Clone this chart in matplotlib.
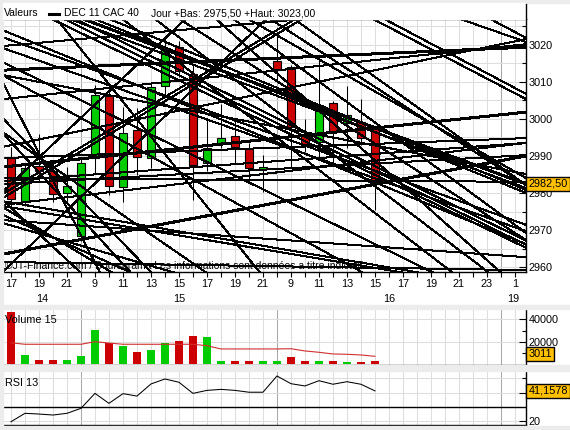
import matplotlib
matplotlib.use('Agg')

import matplotlib.pyplot as plt
import matplotlib.transforms as mtransforms
from matplotlib.lines import Line2D
from matplotlib.patches import Rectangle
import numpy as np

plt.rcParams['font.family'] = ['Liberation Sans', 'DejaVu Sans']

# ================================
# Data (hourly candles, DEC 11 CAC 40)
# ================================
hour_labels = ['17', '19', '21', '9', '11', '13', '15', '17', '19', '21',
               '9', '11', '13', '15', '17', '19', '21', '23', '1']
day_names = ['14', '15', '16', '19']
day_breaks = [5, 19, 35]

opens = [2989.5, 2977.8, 2987.3, 2985.9, 2979.9, 2968.4, 2989.3, 3006.1, 2981.7,
         2997.1, 2989.3, 3008.8, 3019.4, 3012.2, 2988.2, 2993.6, 2995.3, 2991.8,
         2986.4, 3015.6, 3014.0, 2995.8, 2993.8, 3004.2, 2998.9, 2999.2, 2997.4]
highs = [2992.5, 2988.0, 2996.0, 2989.0, 2987.0, 2989.5, 3009.0, 3009.0, 3003.2,
         3002.9, 3010.0, 3021.7, 3021.0, 3014.5, 3000.0, 3004.0, 2999.6, 2993.5,
         2990.2, 3023.0, 3014.5, 3000.0, 3015.8, 3004.8, 3008.8, 3005.3, 2998.0]
lows = [2976.0, 2976.5, 2983.0, 2977.6, 2977.0, 2967.0, 2985.0, 2979.5, 2977.6,
        2984.8, 2986.7, 3006.4, 3011.3, 2978.1, 2986.0, 2992.0, 2988.0, 2983.0,
        2980.3, 3010.4, 2986.6, 2991.0, 2989.4, 2987.5, 2992.0, 2993.0, 2975.5]
closes = [2978.3, 2986.8, 2985.9, 2979.6, 2981.8, 2988.2, 3006.4, 2981.9, 2996.1,
          2989.8, 3008.6, 3019.1, 3012.9, 2987.5, 2992.2, 2994.7, 2992.3, 2986.7,
          2987.1, 3013.1, 2997.7, 2993.2, 3003.7, 2996.5, 3001.0, 2994.9, 2982.5]

volumes = [46400, 8000, 3600, 3600, 3600, 7200, 30500, 18500, 16000, 10800,
           12500, 18800, 20600, 25000, 24000, 2700, 2700, 2700, 2700, 2700,
           6200, 2500, 2500, 2500, 1800, 2000, 3011]
vol_ma15 = [19000, 17700, 17700, 17700, 17700, 17700, 20000, 18800, 17700, 17700,
            17700, 17700, 17700, 17700, 16400, 13500, 13500, 13500, 13500, 13500,
            13700, 11700, 10500, 9000, 8700, 8100, 6900]
rsi13 = [19.5, 25.4, 24.9, 24.2, 25.4, 28.9, 39.4, 32.4, 39.2, 37.5, 46.0, 49.5,
         47.2, 39.4, 41.5, 42.2, 41.5, 40.2, 40.2, 51.6, 46.2, 44.6, 48.3, 45.8,
         47.6, 45.8, 41.1578]

# hand drawn trend lines: price where each one crosses the left / right edge
trend_span = (-0.6, 36.8)
trend_left = [2987.0, 2963.5, 2976.8, 2958.7, 2980.3, 2992.4, 3005.3, 3013.1,
              3019.6, 2983.2, 2982.4, 2979.7, 2978.6,
              3035.0, 3033.6, 3036.9, 3035.0, 3033.3, 3036.6, 3023.9, 3022.0,
              3015.3, 3011.8, 3000.2, 2996.2, 3045.1, 3038.7, 3051.7, 3058.1,
              3057.3, 3078.1, 3072.4, 3064.9, 3073.8, 3083.2, 3081.3, 3079.2,
              3070.0, 3096.4, 2978.1, 2976.2, 2974.1, 2971.9, 2972.7, 2961.4,
              2977.8, 2976.5, 2996.4, 3019.1, 3011.8, 2984.0, 2989.4, 3009.9]
trend_right = [3001.8, 2990.0, 2993.5, 3094.0, 3113.7, 3021.5, 3020.1, 3019.3,
               3032.3, 2993.5, 2990.2, 3064.1, 3063.0,
               2982.4, 2981.3, 2980.0, 2966.0, 2965.2, 2967.1, 2966.2, 2971.4,
               2946.3, 2934.4, 2853.6, 2842.5, 2869.0, 2980.8, 2943.3, 2950.9,
               2967.3, 2952.5, 2969.2, 2984.0, 2982.1, 2982.1, 3006.7, 3005.3,
               3020.7, 3021.8, 2847.1, 2891.9, 2910.7, 2931.2, 2962.7, 2959.2,
               2953.6, 2953.0, 2899.1, 2969.7, 2985.1, 2983.0, 2994.8, 2733.7]
trend_bold = [1, 1, 0, 0, 0, 0, 0, 1, 0, 0, 0, 0, 0,
              1, 0, 0, 0, 0, 0, 0, 0, 0, 0, 0, 0, 0, 0, 0, 0,
              0, 0, 0, 0, 0, 0, 0, 0, 0, 0, 0, 0, 0, 0, 0, 0,
              0, 0, 0, 0, 0, 0, 0, 0]

day_low = '2975,50'
day_high = '3023,00'
last_price = 2982.50
last_volume = 3011
last_rsi = 41.1578

# ================================
# Figure / panels (pixel layout)
# ================================
W, H = 570, 430
fig = plt.figure(figsize=(W / 100, H / 100), dpi=100, facecolor='white')

GREY = '#ececec'
GRID = '#dedede'
SEP = '#a8a8a8'
RED = '#cc0000'
GREEN = '#00cc00'
GOLD = '#ffc000'
FS = 7.8


def fx(px):
    return px / W


def fy(py):
    return 1 - py / H


def add_panel(x0, y0, x1, y1):
    return fig.add_axes([fx(x0), fy(y1), (x1 - x0) / W, (y1 - y0) / H])


for (x0, y0, x1, y1) in [(0, 0, W, 3), (0, 0, 3, H), (0, 305, W, 309),
                         (0, 365, W, 371), (0, 426, W, H)]:
    fig.patches.append(Rectangle((fx(x0), fy(y1)), (x1 - x0) / W, (y1 - y0) / H,
                                 transform=fig.transFigure, color=GREY, zorder=0))

idx = np.arange(len(closes))
xlim = (-0.57, 36.79)
n_slots = 37


def base_grid(ax):
    for i in range(n_slots):
        ax.axvline(i, color=SEP if i in day_breaks else GRID, lw=0.75, zorder=0)
    ax.set_xlim(*xlim)
    ax.set_facecolor('white')
    for s in ['left', 'top']:
        ax.spines[s].set_visible(False)
    ax.spines['right'].set_linewidth(1.0)
    ax.spines['bottom'].set_linewidth(1.0)
    ax.yaxis.tick_right()
    ax.tick_params(axis='y', which='both', direction='in', pad=2, labelsize=FS,
                   width=0.8)
    ax.tick_params(axis='y', which='major', length=5)
    ax.tick_params(axis='y', which='minor', length=3)


def value_box(ax, y, text, trans=None):
    t = trans if trans is not None else mtransforms.blended_transform_factory(ax.transAxes, ax.transData)
    ax.text(1.005, y, text, transform=t, ha='left', va='center', fontsize=FS,
            zorder=10, clip_on=False,
            bbox=dict(boxstyle='square,pad=0.2', fc=GOLD, ec='black', lw=1.0))


# ================================
# Main price panel
# ================================
ax = add_panel(3, 19, 526, 272)
base_grid(ax)
ax.spines['top'].set_visible(True)
ax.spines['top'].set_linewidth(1.0)
ax.set_ylim(2958.7, 3026.9)
for p in range(2960, 3030, 5):
    ax.axhline(p, color=GRID, lw=0.75, zorder=0)
ax.set_yticks(range(2960, 3030, 10))
ax.set_yticks(range(2965, 3030, 10), minor=True)

ax.set_xticks(range(n_slots))
ax.tick_params(axis='x', direction='out', length=3.5, width=0.8, labelbottom=False)

# candles
ax.vlines(idx, lows, highs, color='black', lw=0.75, zorder=2)
body_low = np.minimum(opens, closes)
body_h = np.abs(np.array(closes) - np.array(opens))
candle_cols = [GREEN if c >= o else RED for o, c in zip(opens, closes)]
ax.bar(idx, body_h, bottom=body_low, width=0.6, color=candle_cols,
       edgecolor='black', linewidth=0.8, zorder=3)

# trend lines
for pl, pr, b in zip(trend_left, trend_right, trend_bold):
    ax.plot(trend_span, [pl, pr], color='black', lw=1.44 if b else 0.72,
            antialiased=False, zorder=4)

ax.text(0.004, 0.022, '\u00a9JT-Finance.com / Boursorama Les informations sont '
        'données a titre indicatif', transform=ax.transAxes, fontsize=7.5,
        va='center', ha='left', zorder=5)

# x labels (hours, then days)
tx = mtransforms.blended_transform_factory(ax.transData, fig.transFigure)
for k, lab in enumerate(hour_labels):
    ax.text(2 * k, fy(284), lab, transform=tx, ha='center', va='center',
            fontsize=FS, clip_on=False)
edges = [xlim[0]] + day_breaks + [xlim[1]]
for k, lab in enumerate(day_names):
    ax.text((edges[k] + edges[k + 1]) / 2, fy(299), lab, transform=tx,
            ha='center', va='center', fontsize=FS, clip_on=False)

value_box(ax, last_price, '2982,50')

# header
fig.patches.append(Rectangle((fx(3), fy(19)), 523 / W, 16 / H,
                             transform=fig.transFigure, color='white', zorder=0))
fig.text(fx(4), fy(13.3), 'Valeurs', fontsize=7.5, va='center', ha='left')
fig.add_artist(Line2D([fx(49), fx(59)], [fy(13.5), fy(13.5)], color='black',
                      lw=2.2, transform=fig.transFigure))
fig.text(fx(64), fy(13.3), 'DEC 11 CAC 40', fontsize=7.5, va='center', ha='left')
fig.text(fx(151), fy(13.3), 'Jour +Bas: %s +Haut: %s' % (day_low, day_high),
         fontsize=7.5, va='center', ha='left')
fig.add_artist(Line2D([fx(526), fx(526)], [fy(4), fy(19)], color='black',
                      lw=1.0, transform=fig.transFigure))

# ================================
# Volume panel
# ================================
axv = add_panel(3, 309, 526, 365)
base_grid(axv)
axv.set_ylim(-897, 49330)
for v in [20000, 40000]:
    axv.axhline(v, color=GRID, lw=0.75, zorder=0)
vol_cols = [RED if closes[0] < opens[0] else GREEN] + \
           [GREEN if closes[k] >= closes[k - 1] else RED for k in range(1, len(closes))]
axv.bar(idx, volumes, width=0.6, color=vol_cols, zorder=2)
axv.plot(idx, vol_ma15, color='#d03030', lw=0.8, zorder=3)
axv.set_yticks([20000, 40000])
axv.set_yticks([10000, 30000], minor=True)
axv.set_xticks([])
axv.text(0.004, 0.8, 'Volume 15', transform=axv.transAxes, fontsize=FS,
         va='center', ha='left')
value_box(axv, 0.2, str(last_volume), trans=axv.transAxes)

# ================================
# RSI panel
# ================================
axr = add_panel(3, 371, 526, 425)
base_grid(axr)
axr.set_ylim(17.2, 55.1)
for v in [20, 40, 50]:
    axr.axhline(v, color=GRID, lw=0.75, zorder=0)
axr.axhline(30, color='black', lw=1.0, zorder=2)
axr.plot(idx, rsi13, color='black', lw=0.75, zorder=3)
axr.set_yticks([20, 40])
axr.set_yticklabels(['20', ''])
axr.set_yticks([50], minor=True)
axr.set_xticks([])
axr.text(0.004, 0.78, 'RSI 13', transform=axr.transAxes, fontsize=FS,
         va='center', ha='left')
value_box(axr, last_rsi, '41,1578')

fig.savefig('out.png', dpi=100, facecolor=fig.get_facecolor())
print('Saved: out.png')
